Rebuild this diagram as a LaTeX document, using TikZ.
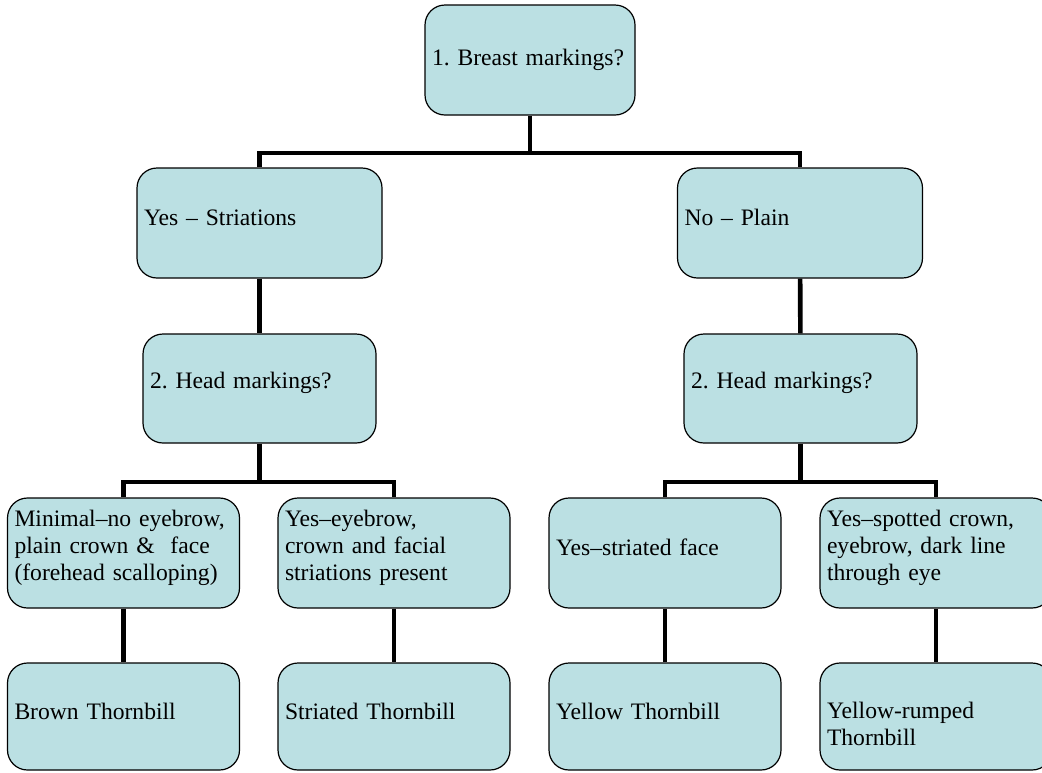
\documentclass[tikz,border=0pt]{standalone}
\usepackage{fontspec}
\setmainfont{Liberation Serif}
\usetikzlibrary{positioning}
\definecolor{boxfill}{HTML}{BBE0E3}
\frenchspacing

\begin{document}
\begin{tikzpicture}
	[x=0.5pt,y=-0.5pt,
	every node/.style={shape=rectangle,rounded corners=10pt,draw,fill=boxfill,
	line width=0.6pt,align=left,inner xsep=3.5pt,inner ysep=2pt,minimum height=55pt,
	font=\fontsize{11.8}{13.5}\selectfont\frenchspacing,
	execute at end node={\endgraf\vspace*{5.5pt}}},
	link/.style={line width=2.3pt}]
	\useasboundingbox (0,0) rectangle (1042,772);
	\node[text width=98pt,execute at end node={\vspace*{-5.5pt}}] (root) at (530,60) {1. Breast markings?};
	\node[text width=115.5pt] (ys) at (259.5,223) {Yes -- Striations};
	\node[text width=115.5pt] (np) at (800,223) {No -- Plain};
	\node[text width=109.5pt,minimum height=54.5pt] (hl) at (259.5,388.5) {2. Head markings?};
	\node[text width=109.5pt,minimum height=54.5pt] (hr) at (800.5,388.5) {2. Head markings?};
	\node[text width=109pt] (ma) at (123.5,553) {Minimal--no eyebrow,\\plain crown \&\ \ face\\(forehead scalloping)};
	\node[text width=109pt] (mb) at (394,553) {Yes--eyebrow,\\crown and facial\\striations present};
	\node[text width=109pt] (mc) at (665,553) {Yes--striated face};
	\node[text width=109pt] (md) at (936,553) {Yes--spotted crown,\\eyebrow, dark line\\through eye};
	\node[text width=109pt,minimum height=53.5pt] (ba) at (123.5,716.5) {Brown Thornbill};
	\node[text width=109pt,minimum height=53.5pt] (bb) at (394,716.5) {Striated Thornbill};
	\node[text width=109pt,minimum height=53.5pt] (bc) at (665,716.5) {Yellow Thornbill};
	\node[text width=109pt,minimum height=53.5pt,
	execute at end node={\vspace*{-13pt}}] (bd) at (936,716.5) {Yellow-rumped\\Thornbill};

	\coordinate (j0) at (530,153);
	\coordinate (jl) at (259.5,482);
	\coordinate (jr) at (800.5,482);
	\draw[link] (root) -- (j0);
	\draw[link] (ys.north) |- (j0) -| (np.north);
	\draw[link] (hl) -- (jl);
	\draw[link] (ma.north) |- (jl) -| (mb.north);
	\draw[link] (hr) -- (jr);
	\draw[link] (mc.north) |- (jr) -| (md.north);
	\foreach \topNode/\botNode in {ys/hl,np/hr,ma/ba,mb/bb,mc/bc,md/bd}{
		\draw[link] (\topNode) -- (\botNode);
	}
\end{tikzpicture}
\end{document}
